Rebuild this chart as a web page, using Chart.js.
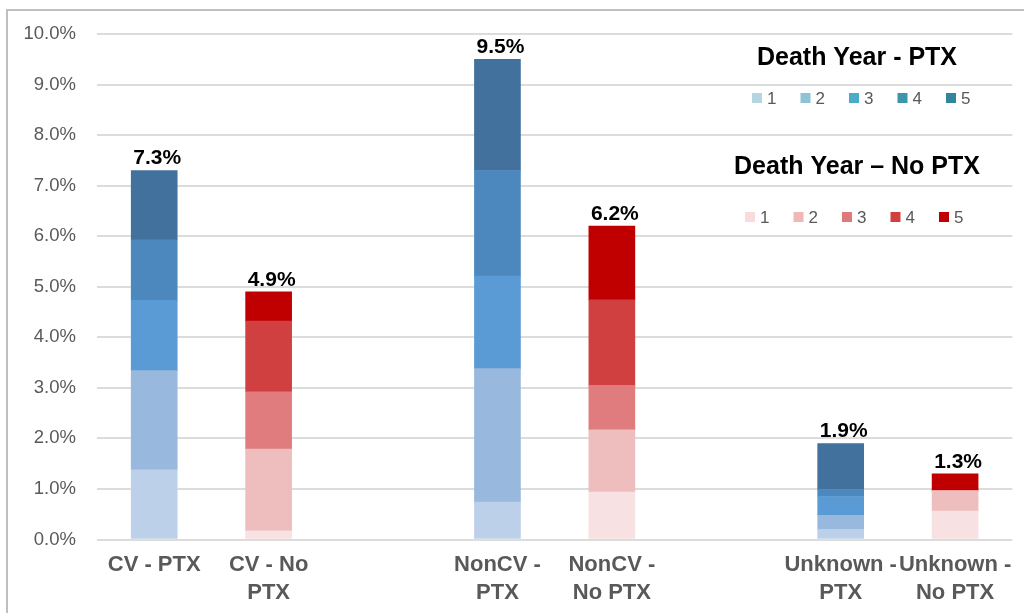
<!DOCTYPE html>
<html>
<head>
<meta charset="utf-8">
<script src="https://cdn.jsdelivr.net/npm/chart.js@4"></script>
<style>
  html, body { margin: 0; padding: 0; background: #fff; overflow: hidden; }
  .frame { position: absolute; left: 6px; top: 9px; width: 1100px; height: 700px; border: 2px solid #bfbfbf; }
  .wrap { position: absolute; left: 0; top: 0; width: 1024px; height: 613px; }
</style>
</head>
<body>
<div class="frame"></div>
<div class="wrap"><canvas id="deathChart"></canvas></div>
<script>
(function(){
  // x categories, blank slots keep the groups apart
  const categories = [
    'CV - PTX', ['CV - No', 'PTX'], '',
    ['NonCV -', 'PTX'], ['NonCV -', 'No PTX'], '',
    ['Unknown -', 'PTX'], ['Unknown -', 'No PTX']
  ];
  const years = ['1', '2', '3', '4', '5'];

  // share of deaths (%) by death year 1..5
  const cvPtx        = [1.38, 1.96, 1.39, 1.20, 1.37];
  const cvNoPtx      = [0.17, 1.62, 1.13, 1.40, 0.58];
  const nonCvPtx     = [0.74, 2.64, 1.83, 2.09, 2.20];
  const nonCvNoPtx   = [0.94, 1.23, 0.88, 1.69, 1.46];
  const unknownPtx   = [0.20, 0.28, 0.37, 0.14, 0.91];
  const unknownNoPtx = [0.56, 0.41, 0.00, 0.00, 0.33];

  const yTicks = [0, 1, 2, 3, 4, 5, 6, 7, 8, 9, 10];

  const ptxBars   = [cvPtx, null, null, nonCvPtx, null, null, unknownPtx, null];
  const noPtxBars = [null, cvNoPtx, null, null, nonCvNoPtx, null, null, unknownNoPtx];

  const blueFill   = ['#bdd0ea', '#98b8de', '#5b9bd5', '#4c87bd', '#41719c'];
  const redFill    = ['#f8e1e2', '#eebdbe', '#e07c7d', '#d04041', '#c00000'];
  const blueLegend = ['#b4d6e3', '#8ec3d6', '#4aacc6', '#3b96ab', '#31859c'];
  const redLegend  = ['#f8dcdc', '#f0b7b7', '#e07a7a', '#d23f3f', '#c00000'];

  const FONT = "'Liberation Sans', Arial, sans-serif";

  const datasets = [];
  years.forEach(function(y, i){
    datasets.push({
      label: 'PTX ' + y,
      data: ptxBars.map(b => b ? b[i] : null),
      backgroundColor: blueFill[i],
      barThickness: 46
    });
  });
  years.forEach(function(y, i){
    datasets.push({
      label: 'No PTX ' + y,
      data: noPtxBars.map(b => b ? b[i] : null),
      backgroundColor: redFill[i],
      barThickness: 46
    });
  });

  // totals above each stack
  const totalsPlugin = {
    id: 'totals',
    afterDatasetsDraw(chart) {
      const ctx = chart.ctx;
      const x = chart.scales.x, y = chart.scales.y;
      ctx.save();
      ctx.font = 'bold 21px ' + FONT;
      ctx.fillStyle = '#000';
      ctx.textAlign = 'center';
      ctx.textBaseline = 'alphabetic';
      categories.forEach(function(c, i){
        const bar = ptxBars[i] || noPtxBars[i];
        if (!bar) return;
        const total = bar.reduce((a, b) => a + b, 0);
        ctx.fillText(total.toFixed(1) + '%', x.getPixelForValue(i) + 3, y.getPixelForValue(total) - 6);
      });
      ctx.restore();
    }
  };

  // two titled legend groups
  const legendPlugin = {
    id: 'groupLegend',
    afterDraw(chart) {
      const ctx = chart.ctx;
      const groups = [
        { title: 'Death Year - PTX', colors: blueLegend, ty: 58, ry: 98, x0: 752 },
        { title: 'Death Year \u2013 No PTX', colors: redLegend, ty: 167, ry: 217, x0: 745 }
      ];
      ctx.save();
      groups.forEach(function(g){
        ctx.font = 'bold 25px ' + FONT;
        ctx.fillStyle = '#000';
        ctx.textAlign = 'center';
        ctx.textBaseline = 'middle';
        ctx.fillText(g.title, 857, g.ty);
        ctx.font = '17px ' + FONT;
        ctx.textAlign = 'left';
        g.colors.forEach(function(col, i){
          const sx = g.x0 + i * 48.5;
          ctx.fillStyle = col;
          ctx.fillRect(sx, g.ry - 5, 10, 10);
          ctx.fillStyle = '#595959';
          ctx.fillText(years[i], sx + 15, g.ry + 1);
        });
      });
      ctx.restore();
    }
  };

  new Chart(document.getElementById('deathChart'), {
    type: 'bar',
    data: { labels: categories, datasets: datasets },
    options: {
      responsive: true,
      maintainAspectRatio: false,
      animation: false,
      layout: { padding: { top: 34, right: 11, bottom: 0, left: 0 } },
      plugins: { legend: { display: false }, tooltip: { enabled: false } },
      scales: {
        x: {
          stacked: true,
          grid: { display: false, drawTicks: false },
          border: { display: false },
          afterFit(s) { s.height = 73.5; },
          ticks: {
            autoSkip: false, maxRotation: 0, minRotation: 0, padding: 12,
            color: '#595959',
            font: { family: FONT, size: 22, weight: 'bold', lineHeight: 1.25 }
          }
        },
        y: {
          stacked: true,
          min: 0, max: 10,
          afterFit(s) { s.width = 97; },
          afterBuildTicks(s) { s.ticks = yTicks.map(v => ({ value: v })); },
          grid: { color: '#dcdcdc', lineWidth: 2, drawTicks: false },
          border: { display: false },
          ticks: {
            padding: 21,
            color: '#595959',
            font: { family: FONT, size: 18.5 },
            callback: v => v.toFixed(1) + '%'
          }
        }
      }
    },
    plugins: [totalsPlugin, legendPlugin]
  });
})();
</script>
</body>
</html>
